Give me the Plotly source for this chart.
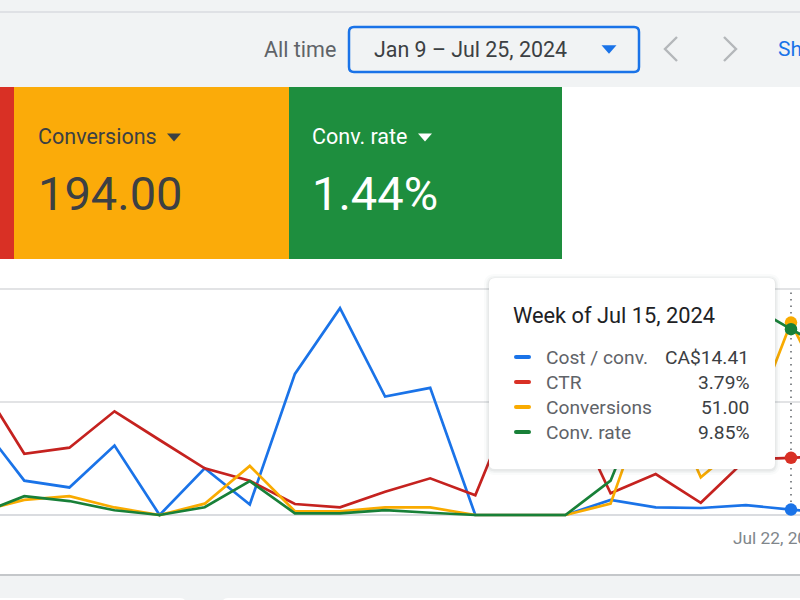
import pandas as pd
import plotly.graph_objects as go

weeks = ["2024-03-11", "2024-03-18", "2024-03-25", "2024-04-01", "2024-04-08",
         "2024-04-15", "2024-04-22", "2024-04-29", "2024-05-06", "2024-05-13",
         "2024-05-20", "2024-05-27", "2024-06-03", "2024-06-10", "2024-06-17",
         "2024-06-24", "2024-07-01", "2024-07-08", "2024-07-15", "2024-07-22"]
cost_per_conv = [246, 91, 73, 184, 0, 124, 28, 374, 548, 314, 337, 0, 0, 0, 40, 20, 18.5, 26, 14.41, 4]
ctr = [8.87, 4.06, 4.46, 6.87, 4.97, 3.09, 2.27, 0.73, 0.51, 1.54, 2.43, 1.30, 8.6, 7.75, 1.44, 2.71, 0.81, 3.68, 3.79, 3.9]
conversions = [1, 4, 5, 2, 0, 3, 13, 1, 1, 2, 2, 0, 0, 0, 3, 37, 10, 20, 51, 27]
conv_rate = [0.06, 1.0, 0.74, 0.25, 0, 0.41, 1.8, 0.09, 0.09, 0.26, 0.12, 0, 0, 0, 1.82, 7.7, 6.36, 11.23, 9.85, 8.53]

series_names = ["Cost / conv.", "CTR", "Conversions", "Conv. rate"]
tooltip_values = ["CA$14.41", "3.79%", "51.00", "9.85%"]
series_colors = ["#1a73e8", "#c5221f", "#f9ab00", "#188038"]
marker_colors = ["#1a73e8", "#d93025", "#f9ab00", "#188038"]
grid_steps = [300, 7.5, 30, 6]  # each metric has its own hidden scale
hover_week = "2024-07-15"

W, H = 800, 600
FONT = "Roboto"
GREY_BG = "#f1f3f4"

# screenshot geometry, in pixels from the top left
PLOT_TOP, PLOT_BOTTOM = 259, 575
ZERO_Y, GRID_PX = 515, 113.2
PX_PER_DAY = 45.1 / 7
HOVER_X = 791


def px(x):
    return x / W


def py(y):
    return 1 - y / H


def rect(x0, y0, x1, y1, fill, layer="below", line=None, line_width=0):
    return dict(type="rect", xref="paper", yref="paper", x0=px(x0), x1=px(x1), y0=py(y1), y1=py(y0),
                fillcolor=fill, layer=layer, line=dict(color=line, width=line_width))


def round_rect(x0, y0, x1, y1, r, fill, layer="above", line=None, line_width=0):
    # pixel sized path, so it is drawn on the paper as x/W and y/H
    def p(x, y):
        return f"{px(x)} {py(y)}"
    d = (f"M {p(x0 + r, y0)} L {p(x1 - r, y0)} Q {p(x1, y0)} {p(x1, y0 + r)} "
         f"L {p(x1, y1 - r)} Q {p(x1, y1)} {p(x1 - r, y1)} "
         f"L {p(x0 + r, y1)} Q {p(x0, y1)} {p(x0, y1 - r)} "
         f"L {p(x0, y0 + r)} Q {p(x0, y0)} {p(x0 + r, y0)} Z")
    return dict(type="path", xref="paper", yref="paper", path=d, fillcolor=fill, layer=layer,
                line=dict(color=line, width=line_width))


def triangle(cx, cy, half, fill):
    d = f"M {px(cx - half)} {py(cy - half / 2)} L {px(cx + half)} {py(cy - half / 2)} L {px(cx)} {py(cy + half / 2 + 1)} Z"
    return dict(type="path", xref="paper", yref="paper", path=d, fillcolor=fill, layer="above", line=dict(width=0))


def chevron(cx, cy, direction):
    d = (f"M {px(cx - direction * 6)} {py(cy - 12)} L {px(cx + direction * 6)} {py(cy)} "
         f"L {px(cx - direction * 6)} {py(cy + 12)}")
    return dict(type="path", xref="paper", yref="paper", path=d, layer="above", line=dict(color="#b4b7ba", width=2.4))


def label(x, y, text, size, color, anchor="left", family=FONT):
    # annotations carry about 2px of padding, take it off so x is where the glyphs start
    shift = -2 if anchor == "left" else 2
    return dict(xref="paper", yref="paper", x=px(x), y=py(y), text=text, showarrow=False, xanchor=anchor,
                yanchor="middle", xshift=shift, font=dict(family=family, size=size, color=color))


def y_range(step):
    return [-(PLOT_BOTTOM - ZERO_Y) / GRID_PX * step, (ZERO_Y - PLOT_TOP) / GRID_PX * step]


fig = go.Figure()
values = [cost_per_conv, ctr, conversions, conv_rate]
hover_i = weeks.index(hover_week)
for i, name in enumerate(series_names):
    axis = "y" if i == 0 else f"y{i + 1}"
    fig.add_trace(go.Scatter(x=weeks, y=values[i], name=name, mode="lines", yaxis=axis,
                             line=dict(color=series_colors[i], width=2.7), showlegend=False))
for i, name in enumerate(series_names):
    axis = "y" if i == 0 else f"y{i + 1}"
    fig.add_trace(go.Scatter(x=[weeks[hover_i]], y=[values[i][hover_i]], mode="markers", yaxis=axis,
                             marker=dict(color=marker_colors[i], size=12.5), showlegend=False))

hover_date = pd.Timestamp(hover_week)
x_start = hover_date - pd.Timedelta(days=HOVER_X / PX_PER_DAY)
x_end = hover_date + pd.Timedelta(days=(W - HOVER_X) / PX_PER_DAY)

shapes = [
    rect(0, 0, W, 87, GREY_BG),
    rect(0, 11, W, 13, "#dfe1e5"),
    rect(0, 87, W, 575, "#ffffff"),
    rect(0, 575, W, 600, GREY_BG),
    rect(0, 574, W, 576, "#c4c7ca"),
    round_rect(-10, 598, 186, 620, 6, "#ffffff", layer="below"),
    round_rect(222, 598, 810, 620, 6, "#ffffff", layer="below"),
    rect(0, 87, 14, 259, "#d93025"),
    rect(14, 87, 289, 259, "#fbab09"),
    rect(289, 87, 562, 259, "#1e8e3e"),
    round_rect(349, 27, 639, 72, 5, "rgba(0,0,0,0)", line="#1a73e8", line_width=2.5),
    triangle(609, 49, 7.5, "#1a73e8"),
    triangle(174, 137, 7, "#3c4043"),
    triangle(425, 137, 7, "#ffffff"),
    chevron(671, 49, -1),
    chevron(730, 49, 1),
    dict(type="line", xref="x", yref="paper", x0=hover_week, x1=hover_week, y0=py(ZERO_Y), y1=py(288),
         layer="below", line=dict(color="#5f6368", width=1.5, dash="1.5px,5px")),
]
# soft shadow of the tooltip, then the tooltip itself
for grow, alpha in [(5, 0.025), (3, 0.04), (1.5, 0.06)]:
    shapes.append(round_rect(489 - grow, 278 - grow + 1, 775 + grow, 469 + grow + 1, 6 + grow, f"rgba(60,64,67,{alpha})"))
shapes.append(round_rect(489, 278, 775, 469, 6, "#ffffff"))

row_y = [357, 382, 407, 432]
for i, y in enumerate(row_y):
    shapes.append(round_rect(514, y - 2, 531, y + 2, 2, marker_colors[i]))

annotations = [
    label(264, 49, "All time", 21.5, "#5f6368"),
    label(374, 49, "Jan 9 – Jul 25, 2024", 21.4, "#3c4043"),
    label(778, 49, "Sh", 21, "#1a73e8"),
    label(38, 137, "Conversions", 21.5, "#3c4043"),
    label(38, 194, "194.00", 47, "#3c4043"),
    label(312, 137, "Conv. rate", 21.5, "#ffffff"),
    label(312, 194, "1.44%", 47, "#ffffff"),
    label(513, 316, "Week of Jul 15, 2024", 21.8, "#202124"),
    label(733, 538, "Jul 22, 2024", 17.3, "#80868b"),
]
for i, y in enumerate(row_y):
    annotations.append(label(546, y, series_names[i], 19.2, "#5f6368"))
    annotations.append(label(749, y, tooltip_values[i], 19.2, "#3c4043", anchor="right"))

layout_axes = dict(
    xaxis=dict(type="date", range=[x_start, x_end], domain=[0, 1], visible=False, showgrid=False, fixedrange=True),
    yaxis=dict(range=y_range(grid_steps[0]), domain=[py(PLOT_BOTTOM), py(PLOT_TOP)], tick0=0, dtick=grid_steps[0],
               showgrid=True, gridcolor="#e2e3e5", gridwidth=1.5, zeroline=True, zerolinecolor="#dadce0",
               zerolinewidth=1.5, showticklabels=False, ticks=""),
)
for i in range(1, 4):
    layout_axes[f"yaxis{i + 1}"] = dict(range=y_range(grid_steps[i]), overlaying="y", showgrid=False, zeroline=False,
                                        showticklabels=False, ticks="")

fig.update_layout(
    width=W, height=H, margin=dict(l=0, r=0, t=0, b=0), showlegend=False,
    paper_bgcolor="#ffffff", plot_bgcolor="rgba(0,0,0,0)", font=dict(family=FONT),
    shapes=shapes, annotations=annotations, **layout_axes,
)

fig.write_html("out.html", config={"displayModeBar": False},
               post_script="document.body.style.margin='0';")
